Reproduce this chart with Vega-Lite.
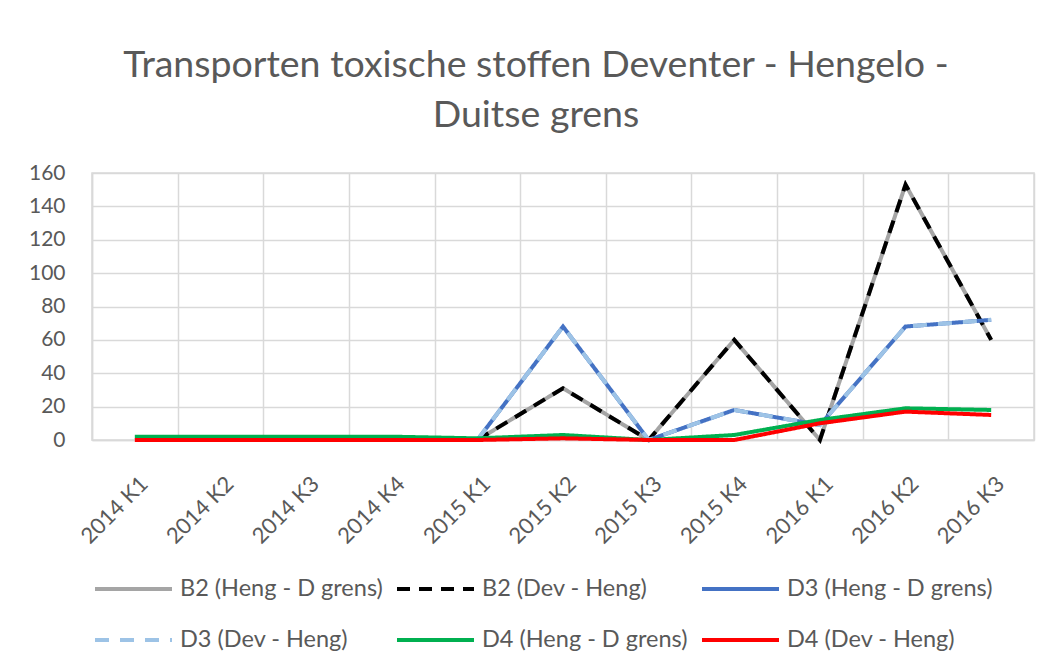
{
  "$schema": "https://vega.github.io/schema/vega-lite/v6.json",
  "autosize": {"type": "none"},
  "width": 942,
  "height": 267,
  "padding": {"left": 92, "top": 173, "right": 19, "bottom": 228},
  "background": "white",
  "title": {
    "text": ["Transporten toxische stoffen Deventer - Hengelo -", "Duitse grens"],
    "font": "Lato",
    "fontSize": 37.5,
    "fontWeight": "normal",
    "color": "#595959",
    "lineHeight": 50,
    "anchor": "middle",
    "dx": -27,
    "offset": 28
  },
  "data": {
    "values": [
      {"serie": "B2 (Heng - D grens)", "kwartaal": "2015 K1", "aantal": 0},
      {"serie": "B2 (Heng - D grens)", "kwartaal": "2015 K2", "aantal": 31},
      {"serie": "B2 (Heng - D grens)", "kwartaal": "2015 K3", "aantal": 0},
      {"serie": "B2 (Heng - D grens)", "kwartaal": "2015 K4", "aantal": 60},
      {"serie": "B2 (Heng - D grens)", "kwartaal": "2016 K1", "aantal": 0},
      {"serie": "B2 (Heng - D grens)", "kwartaal": "2016 K2", "aantal": 153},
      {"serie": "B2 (Heng - D grens)", "kwartaal": "2016 K3", "aantal": 60},
      {"serie": "B2 (Dev - Heng)", "kwartaal": "2015 K1", "aantal": 0},
      {"serie": "B2 (Dev - Heng)", "kwartaal": "2015 K2", "aantal": 31},
      {"serie": "B2 (Dev - Heng)", "kwartaal": "2015 K3", "aantal": 0},
      {"serie": "B2 (Dev - Heng)", "kwartaal": "2015 K4", "aantal": 60},
      {"serie": "B2 (Dev - Heng)", "kwartaal": "2016 K1", "aantal": 0},
      {"serie": "B2 (Dev - Heng)", "kwartaal": "2016 K2", "aantal": 153},
      {"serie": "B2 (Dev - Heng)", "kwartaal": "2016 K3", "aantal": 60},
      {"serie": "D3 (Heng - D grens)", "kwartaal": "2015 K1", "aantal": 0},
      {"serie": "D3 (Heng - D grens)", "kwartaal": "2015 K2", "aantal": 68},
      {"serie": "D3 (Heng - D grens)", "kwartaal": "2015 K3", "aantal": 0},
      {"serie": "D3 (Heng - D grens)", "kwartaal": "2015 K4", "aantal": 18},
      {"serie": "D3 (Heng - D grens)", "kwartaal": "2016 K1", "aantal": 9},
      {"serie": "D3 (Heng - D grens)", "kwartaal": "2016 K2", "aantal": 68},
      {"serie": "D3 (Heng - D grens)", "kwartaal": "2016 K3", "aantal": 72},
      {"serie": "D3 (Dev - Heng)", "kwartaal": "2015 K1", "aantal": 0},
      {"serie": "D3 (Dev - Heng)", "kwartaal": "2015 K2", "aantal": 68},
      {"serie": "D3 (Dev - Heng)", "kwartaal": "2015 K3", "aantal": 0},
      {"serie": "D3 (Dev - Heng)", "kwartaal": "2015 K4", "aantal": 18},
      {"serie": "D3 (Dev - Heng)", "kwartaal": "2016 K1", "aantal": 9},
      {"serie": "D3 (Dev - Heng)", "kwartaal": "2016 K2", "aantal": 68},
      {"serie": "D3 (Dev - Heng)", "kwartaal": "2016 K3", "aantal": 72},
      {"serie": "D4 (Heng - D grens)", "kwartaal": "2014 K1", "aantal": 2},
      {"serie": "D4 (Heng - D grens)", "kwartaal": "2014 K2", "aantal": 2},
      {"serie": "D4 (Heng - D grens)", "kwartaal": "2014 K3", "aantal": 2},
      {"serie": "D4 (Heng - D grens)", "kwartaal": "2014 K4", "aantal": 2},
      {"serie": "D4 (Heng - D grens)", "kwartaal": "2015 K1", "aantal": 1},
      {"serie": "D4 (Heng - D grens)", "kwartaal": "2015 K2", "aantal": 3},
      {"serie": "D4 (Heng - D grens)", "kwartaal": "2015 K3", "aantal": 0},
      {"serie": "D4 (Heng - D grens)", "kwartaal": "2015 K4", "aantal": 3},
      {"serie": "D4 (Heng - D grens)", "kwartaal": "2016 K1", "aantal": 12},
      {"serie": "D4 (Heng - D grens)", "kwartaal": "2016 K2", "aantal": 19},
      {"serie": "D4 (Heng - D grens)", "kwartaal": "2016 K3", "aantal": 18},
      {"serie": "D4 (Dev - Heng)", "kwartaal": "2014 K1", "aantal": 0},
      {"serie": "D4 (Dev - Heng)", "kwartaal": "2014 K2", "aantal": 0},
      {"serie": "D4 (Dev - Heng)", "kwartaal": "2014 K3", "aantal": 0},
      {"serie": "D4 (Dev - Heng)", "kwartaal": "2014 K4", "aantal": 0},
      {"serie": "D4 (Dev - Heng)", "kwartaal": "2015 K1", "aantal": 0},
      {"serie": "D4 (Dev - Heng)", "kwartaal": "2015 K2", "aantal": 1},
      {"serie": "D4 (Dev - Heng)", "kwartaal": "2015 K3", "aantal": 0},
      {"serie": "D4 (Dev - Heng)", "kwartaal": "2015 K4", "aantal": 0},
      {"serie": "D4 (Dev - Heng)", "kwartaal": "2016 K1", "aantal": 10},
      {"serie": "D4 (Dev - Heng)", "kwartaal": "2016 K2", "aantal": 17},
      {"serie": "D4 (Dev - Heng)", "kwartaal": "2016 K3", "aantal": 15}
    ]
  },
  "mark": {"type": "line", "strokeWidth": 4, "strokeCap": "butt"},
  "encoding": {
    "x": {
      "field": "kwartaal",
      "type": "ordinal",
      "scale": {
        "type": "band",
        "paddingInner": 0,
        "paddingOuter": 0,
        "domain": ["2014 K1", "2014 K2", "2014 K3", "2014 K4", "2015 K1", "2015 K2", "2015 K3", "2015 K4", "2016 K1", "2016 K2", "2016 K3"]
      },
      "axis": {
        "title": null,
        "tickBand": "extent",
        "ticks": false,
        "grid": true,
        "gridColor": "#d9d9d9",
        "gridWidth": 1.5,
        "domainColor": "#d9d9d9",
        "domainWidth": 1.5,
        "labelAngle": -45,
        "labelFont": "Lato",
        "labelFontSize": 22,
        "labelColor": "#595959",
        "labelPadding": 33,
        "labelOffset": 2
      }
    },
    "y": {
      "field": "aantal",
      "type": "quantitative",
      "scale": {"domain": [0, 160], "nice": false},
      "axis": {
        "title": null,
        "values": [0, 20, 40, 60, 80, 100, 120, 140, 160],
        "ticks": false,
        "grid": true,
        "gridColor": "#d9d9d9",
        "gridWidth": 1.5,
        "domainColor": "#d9d9d9",
        "domainWidth": 1.5,
        "labelFont": "Lato",
        "labelFontSize": 21,
        "labelColor": "#595959",
        "labelPadding": 27
      }
    },
    "color": {
      "field": "serie",
      "type": "nominal",
      "sort": null,
      "scale": {
        "domain": ["B2 (Heng - D grens)", "B2 (Dev - Heng)", "D3 (Heng - D grens)", "D3 (Dev - Heng)", "D4 (Heng - D grens)", "D4 (Dev - Heng)"],
        "range": ["#A5A5A5", "#000000", "#4472C4", "#9DC3E6", "#00B050", "#FF0000"]
      },
      "legend": {
        "title": null,
        "orient": "none",
        "direction": "horizontal",
        "legendX": 1,
        "legendY": 403,
        "columns": 3,
        "symbolType": "stroke",
        "symbolSize": 5929,
        "symbolStrokeWidth": 4,
        "clipHeight": 26,
        "rowPadding": 25,
        "columnPadding": 12,
        "labelFont": "Lato",
        "labelFontSize": 23.5,
        "labelColor": "#595959",
        "labelOffset": 6,
        "labelLimit": 400
      }
    },
    "strokeDash": {
      "field": "serie",
      "type": "nominal",
      "sort": null,
      "scale": {
        "domain": ["B2 (Heng - D grens)", "B2 (Dev - Heng)", "D3 (Heng - D grens)", "D3 (Dev - Heng)", "D4 (Heng - D grens)", "D4 (Dev - Heng)"],
        "range": [[1, 0], [13, 9], [1, 0], [14, 11], [1, 0], [1, 0]]
      },
      "legend": {
        "title": null,
        "orient": "none",
        "direction": "horizontal",
        "legendX": 1,
        "legendY": 403,
        "columns": 3,
        "symbolType": "stroke",
        "symbolSize": 5929,
        "symbolStrokeWidth": 4,
        "clipHeight": 26,
        "rowPadding": 25,
        "columnPadding": 12,
        "labelFont": "Lato",
        "labelFontSize": 23.5,
        "labelColor": "#595959",
        "labelOffset": 6,
        "labelLimit": 400
      }
    }
  },
  "config": {
    "view": {"stroke": "#d9d9d9", "strokeWidth": 1.5}
  }
}
